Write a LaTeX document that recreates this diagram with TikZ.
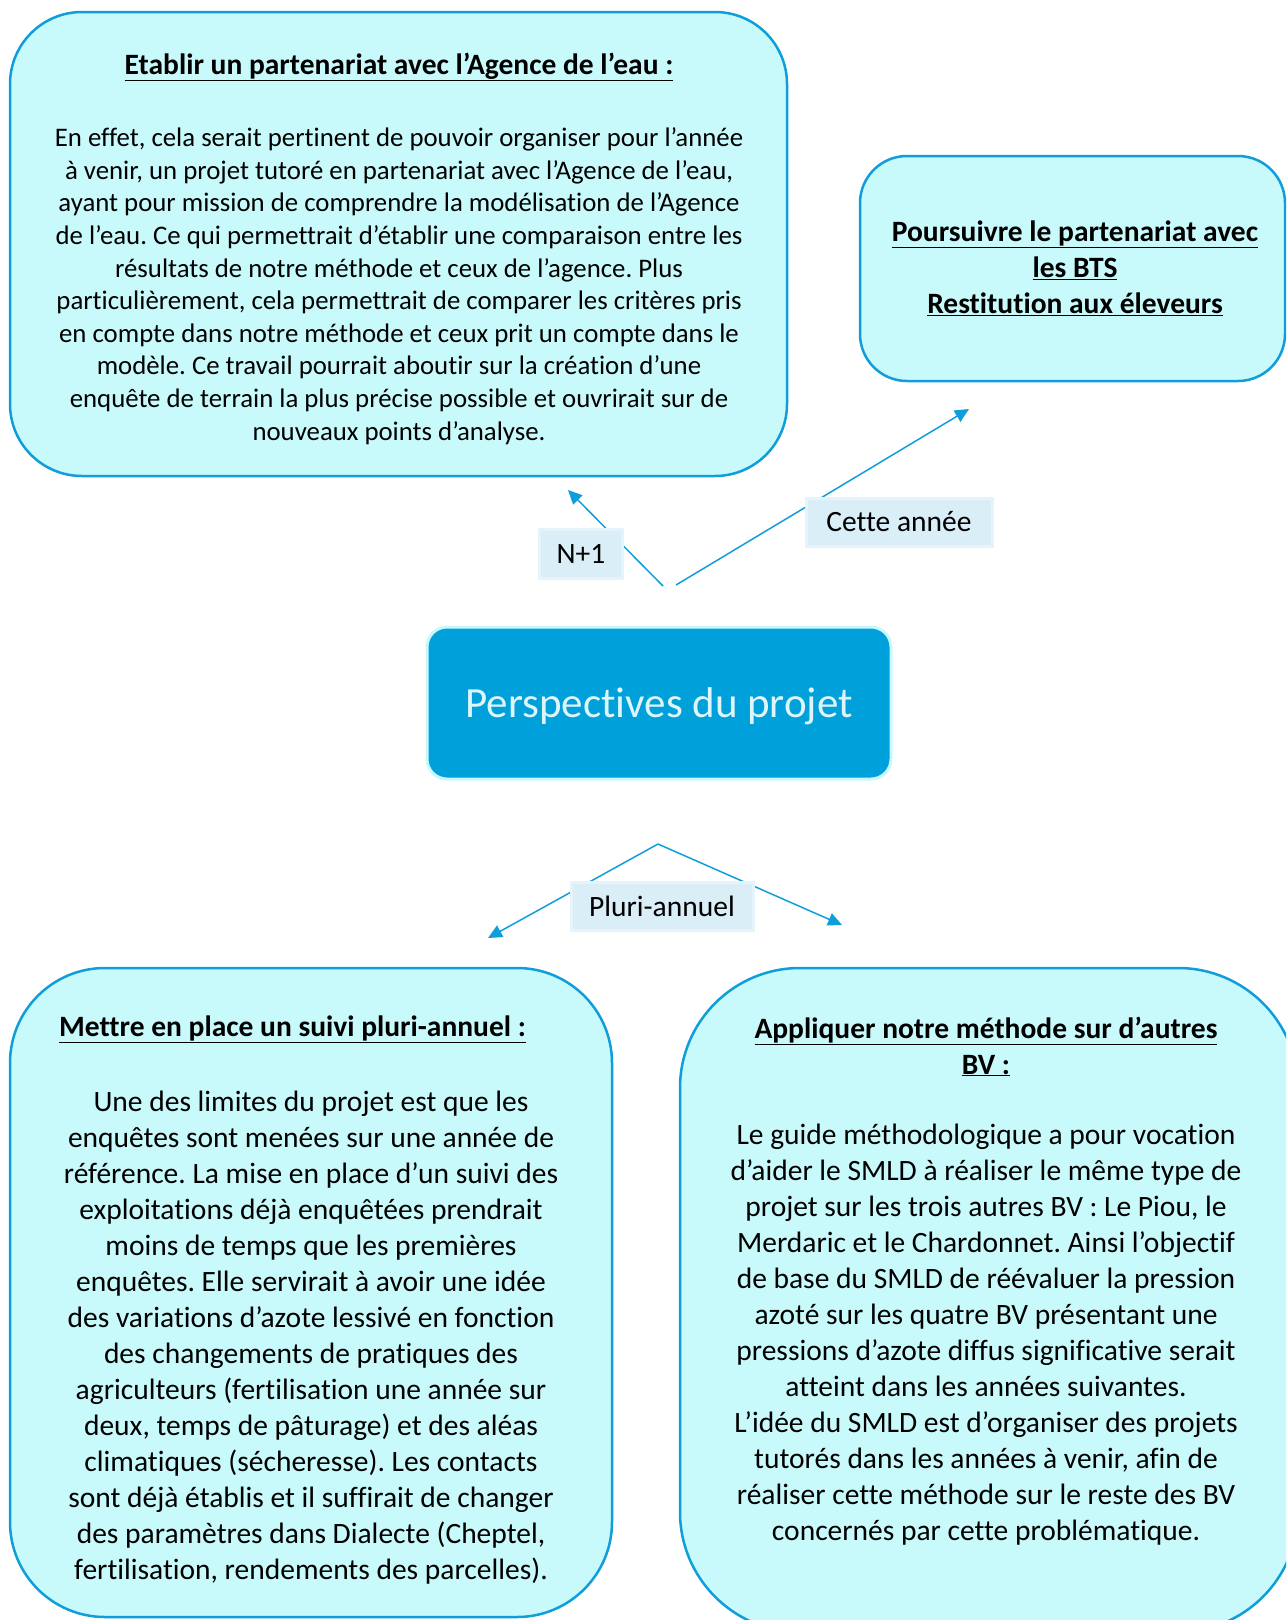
\documentclass[tikz,border=0pt]{standalone}
\usepackage{fontspec}
\setmainfont{Carlito}[Ligatures=CommonOff]
\usetikzlibrary{arrows.meta,fit}
\frenchspacing

\definecolor{boxfill}{RGB}{200,250,252}
\definecolor{boxline}{RGB}{16,158,218}
\definecolor{hubfill}{RGB}{0,160,218}
\definecolor{hubline}{RGB}{200,248,252}
\definecolor{hubtext}{RGB}{222,246,250}
\definecolor{tagfill}{RGB}{218,238,248}

\newcommand{\bigfont}{\fontsize{29.5}{36}\selectfont}
\newcommand{\smallfont}{\fontsize{26.8}{32.6}\selectfont}

\tikzset{
  bluebox/.style={draw=boxline, fill=boxfill, line width=2.5pt, inner sep=0pt},
  hubbox/.style={draw=hubline, fill=hubfill, line width=3pt, rounded corners=20pt, inner sep=0pt},
  tagbox/.style={fill=tagfill, draw=tagfill!70, line width=3pt, inner sep=0pt, font=\bigfont},
  smalltxt/.style={align=center, font=\smallfont},
  bigtxt/.style={align=center, font=\bigfont},
  link/.style={draw=boxline, line width=1.5pt, -{Triangle[length=14pt,width=13pt]}}
}

\begin{document}
\begin{tikzpicture}[x=1pt,y=-1pt]
\useasboundingbox (0,0) rectangle (1286,1620);
\clip (0,0) rectangle (1286,1620);

% boxes
\node[bluebox, rounded corners=72pt, fit={(10,12) (787,476)}] (agence) {};
\node[bluebox, rounded corners=47pt, fit={(860,156) (1285,381)}] (bts) {};
\node[bluebox, rounded corners=95pt, fit={(10,968) (612,1617)}] (suivi) {};
\node[bluebox, rounded corners=120pt, fit={(680,968) (1298,1632)}] (autres) {};
\node[hubbox, fit={(427,627) (891,779)}] (projet) {};

% texts
\node[smalltxt, anchor=north] (agencetxt) at (399,49) {%
{\bigfont\bfseries\underline{Etablir un partenariat avec l’Agence de l’eau :}}\\[40pt]
En effet, cela serait pertinent de pouvoir organiser pour l’année\\
à venir, un projet tutoré en partenariat avec l’Agence de l’eau,\\
ayant pour mission de comprendre la modélisation de l’Agence\\
de l’eau. Ce qui permettrait d’établir une comparaison entre les\\
résultats de notre méthode et ceux de l’agence. Plus\\
particulièrement, cela permettrait de comparer les critères pris\\
en compte dans notre méthode et ceux prit un compte dans le\\
modèle. Ce travail pourrait aboutir sur la création d’une\\
enquête de terrain la plus précise possible et ouvrirait sur de\\
nouveaux points d’analyse.};

\node[bigtxt, font=\bigfont\bfseries] (btstxt) at (1075,268) {%
\underline{Poursuivre le partenariat avec}\\
\underline{les BTS}\\
\underline{Restitution aux éleveurs}};

\node[bigtxt, anchor=north] (suivitxt) at (311,1012) {%
\textbf{\underline{Mettre en place un suivi pluri-annuel :}}\hspace*{37pt}\null\\[39pt]
Une des limites du projet est que les\\
enquêtes sont menées sur une année de\\
référence. La mise en place d’un suivi des\\
exploitations déjà enquêtées prendrait\\
moins de temps que les premières\\
enquêtes. Elle servirait à avoir une idée\\
des variations d’azote lessivé en fonction\\
des changements de pratiques des\\
agriculteurs (fertilisation une année sur\\
deux, temps de pâturage) et des aléas\\
climatiques (sécheresse). Les contacts\\
sont déjà établis et il suffirait de changer\\
des paramètres dans Dialecte (Cheptel,\\
fertilisation, rendements des parcelles).};

\node[bigtxt, anchor=north] (autrestxt) at (986,1013) {%
\textbf{\underline{Appliquer notre méthode sur d’autres}}\\
\textbf{\underline{BV :}}\\[34pt]
Le guide méthodologique a pour vocation\\
d’aider le SMLD à réaliser le même type de\\
projet sur les trois autres BV : Le Piou, le\\
Merdaric et le Chardonnet. Ainsi l’objectif\\
de base du SMLD de réévaluer la pression\\
azoté sur les quatre BV présentant une\\
pressions d’azote diffus significative serait\\
atteint dans les années suivantes.\\
L’idée du SMLD est d’organiser des projets\\
tutorés dans les années à venir, afin de\\
réaliser cette méthode sur le reste des BV\\
concernés par cette problématique.};

\node[text=hubtext, font=\fontsize{43}{50}\selectfont] (projettxt) at ([yshift=-3pt]projet.center) {Perspectives du projet};

% links
\coordinate (upfrom1) at (663,586);
\coordinate (upto1) at (568,490);
\coordinate (upfrom2) at (676,585);
\coordinate (upto2) at (969,409);
\coordinate (downfrom) at (658,844);
\coordinate (downto1) at (488,938);
\coordinate (downto2) at (842,925);
\draw[link] (upfrom1) -- (upto1);
\draw[link] (upfrom2) -- (upto2);
\draw[link] (downfrom) -- (downto1);
\draw[link] (downfrom) -- (downto2);

% tags
\node[tagbox, minimum width=83pt, minimum height=49pt] (tagn) at (581,554) {N+1};
\node[tagbox, minimum width=186pt, minimum height=48pt] (tagcette) at (899,522) {Cette année};
\node[tagbox, minimum width=182pt, minimum height=48pt] (tagpluri) at (662,906) {Pluri-annuel};
\end{tikzpicture}
\end{document}
